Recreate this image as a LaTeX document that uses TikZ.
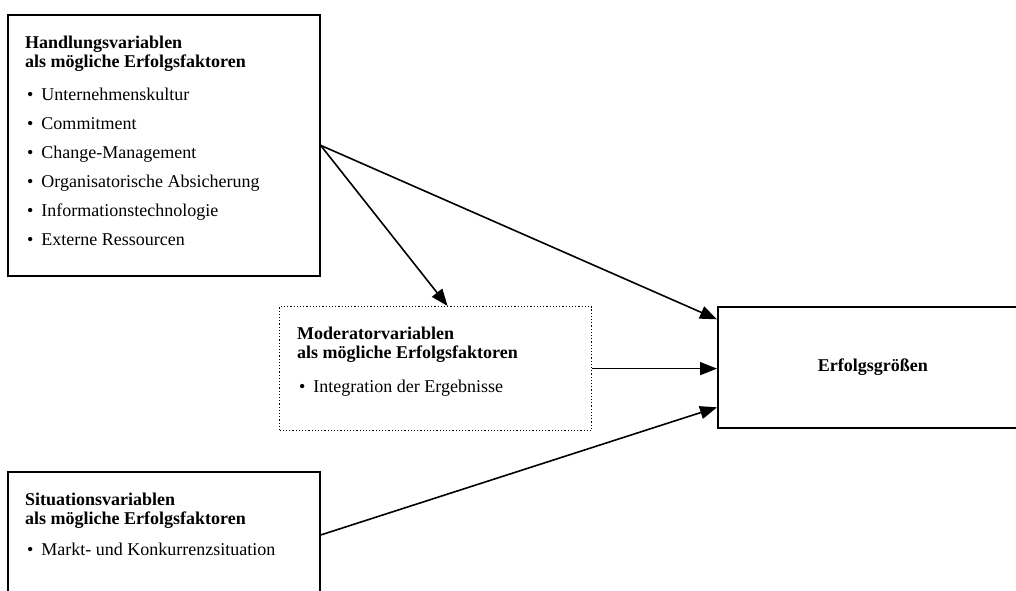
\documentclass[tikz,border=0pt]{standalone}
\usepackage{fontspec}
\setmainfont{Liberation Serif}
\usetikzlibrary{arrows.meta}
\tikzset{
	box/.style={draw, line width=1.6pt, anchor=north west, inner sep=0pt},
	modbox/.style={draw, dotted, line width=1.2pt, anchor=north west, inner sep=0pt},
	kopf/.style={anchor=base west, align=left, inner sep=0pt, font=\fontsize{18}{19.5}\selectfont\bfseries},
	punkte/.style={anchor=base west, align=left, inner sep=0pt, font=\fontsize{18}{29}\selectfont},
	pfeil/.style={line width=1.6pt, -{Triangle[length=17pt,width=13pt]}}
}
\newcommand{\pkt}{\textbullet\hspace{8pt}}
\begin{document}
\begin{tikzpicture}[x=1pt, y=-1pt]
	    \useasboundingbox (0,0) rectangle (1016,590);
	    % Kaesten
	    \node[box, minimum width=312pt, minimum height=261pt] (hand) at (7,14) {};
	    \node[modbox, minimum width=312pt, minimum height=124pt] (mod) at (279,306) {};
	    \node[box, minimum width=310pt, minimum height=121pt, font=\fontsize{18}{19.5}\selectfont\bfseries] (erf) at (717,306) {Erfolgsgrößen};
	    \node[box, minimum width=312pt, minimum height=150pt] (sit) at (7,471) {};
	    % Texte (Anker = Grundlinie der letzten Zeile)
	    \node[kopf] (handkopf) at ([xshift=18pt,yshift=-53.5pt]hand.north west) {Handlungsvariablen\\als mögliche Erfolgsfaktoren};
	    \node[punkte] (handliste) at ([xshift=20pt,yshift=-231pt]hand.north west) {\pkt Unternehmenskultur\\\pkt Commitment\\\pkt Change-Management\\\pkt Organisatorische Absicherung\\\pkt Informationstechnologie\\\pkt Externe Ressourcen};
	    \node[kopf] (modkopf) at ([xshift=18pt,yshift=-52.5pt]mod.north west) {Moderatorvariablen\\als mögliche Erfolgsfaktoren};
	    \node[punkte] (modliste) at ([xshift=20pt,yshift=-86pt]mod.north west) {\pkt Integration der Ergebnisse};
	    \node[kopf] (sitkopf) at ([xshift=18pt,yshift=-53.5pt]sit.north west) {Situationsvariablen\\als mögliche Erfolgsfaktoren};
	    \node[punkte] (sitliste) at ([xshift=20pt,yshift=-84pt]sit.north west) {\pkt Markt- und Konkurrenzsituation};
	    % Pfeile
	    \draw[pfeil] (hand.east) -- ([yshift=48pt]erf.west);
	    \draw[pfeil] (hand.east) -- ([xshift=12pt]mod.north);
	    \draw[pfeil] (mod.east) -- (mod.east -| erf.west);
	    \draw[pfeil] ([yshift=-64pt]sit.north east) -- ([yshift=-40pt]erf.west);
\end{tikzpicture}
\end{document}
